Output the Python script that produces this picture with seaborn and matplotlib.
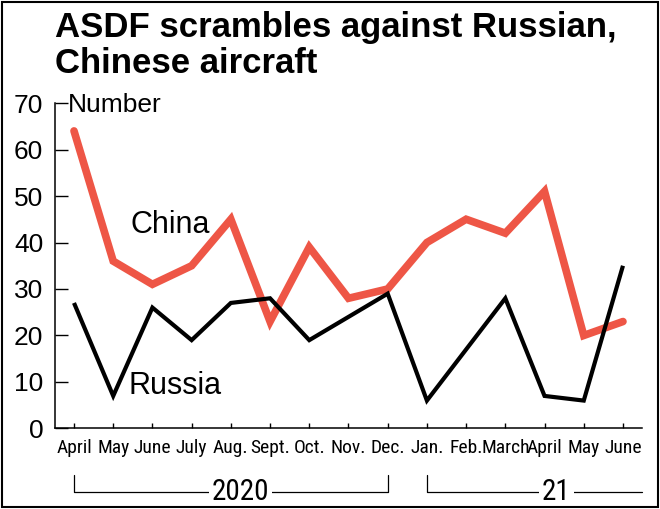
import matplotlib
matplotlib.use("Agg")
import matplotlib.pyplot as plt
import matplotlib.transforms as mtransforms
from matplotlib.patches import Rectangle
import numpy as np
import pandas as pd
import seaborn as sns

months = ["April", "May", "June", "July", "Aug.", "Sept.", "Oct.", "Nov.",
          "Dec.", "Jan.", "Feb.", "March", "April", "May", "June"]
china = [64, 36, 31, 35, 45, 23, 39, 28, 30, 40, 45, 42, 51, 20, 23]
russia = [27, 7, 26, 19, 27, 28, 19, 24, 29, 6, 17, 28, 7, 6, 35]
yticks = [0, 10, 20, 30, 40, 50, 60, 70]

RED = "#EE5646"
NARROW = ["Liberation Sans Narrow", "Roboto Condensed", "Liberation Sans"]

sns.set_style("ticks")
plt.rcParams["font.family"] = ["Liberation Sans", "DejaVu Sans"]
plt.rcParams["text.color"] = "black"
plt.rcParams["xtick.color"] = "black"
plt.rcParams["ytick.color"] = "black"

df = pd.DataFrame({"pos": np.arange(len(months)), "China": china, "Russia": russia})

fig = plt.figure(figsize=(6.6, 5.09), dpi=100)
ax = fig.add_axes([0.0833, 0.1582, 0.8894, 0.6394])

sns.lineplot(data=df, x="pos", y="China", ax=ax, color=RED, linewidth=5.5,
             solid_capstyle="round", solid_joinstyle="miter")
sns.lineplot(data=df, x="pos", y="Russia", ax=ax, color="black", linewidth=3,
             solid_capstyle="butt", solid_joinstyle="miter")

ax.set_xlim(-0.485, len(months) - 1 + 0.485)
ax.set_ylim(0, 70)
ax.set_xticks(df["pos"])
ax.set_xticklabels(months, family=NARROW, fontsize=14)
ax.set_yticks(yticks)
ax.set_yticklabels([str(v) for v in yticks], fontsize=19)
ax.tick_params(axis="x", direction="in", length=3.6, width=1, pad=7.5)
ax.tick_params(axis="y", direction="in", length=9.4, width=1, pad=8.5)
ax.set_xlabel("")
ax.set_ylabel("")
for side in ["top", "right"]:
    ax.spines[side].set_visible(False)
for side in ["left", "bottom"]:
    ax.spines[side].set_linewidth(1.1)
    ax.spines[side].set_color("black")

ax.text(-0.15, 68.1, "Number", fontsize=19, va="baseline", ha="left")
ax.text(1.45, 43.8, "China", fontsize=22, va="center", ha="left")
ax.text(1.38, 9.1, "Russia", fontsize=22, va="center", ha="left")

# year brackets under the month labels
trans = mtransforms.blended_transform_factory(ax.transData, ax.transAxes)
y_top, y_bot = -0.143, -0.195
ax.plot([0, 0, 8, 8], [y_top, y_bot, y_bot, y_top], transform=trans,
        color="black", lw=0.9, clip_on=False)
ax.plot([9, 9, 14.485], [y_top, y_bot, y_bot], transform=trans,
        color="black", lw=0.9, clip_on=False)
ax.text(4.25, y_bot, "2020", transform=trans, family=NARROW, fontsize=21,
        ha="center", va="center",
        bbox=dict(facecolor="white", edgecolor="none", pad=2))
ax.text(12.3, y_bot, "21", transform=trans, family=NARROW, fontsize=21,
        ha="center", va="center",
        bbox=dict(facecolor="white", edgecolor="none", pad=2))

fig.text(0.0833, 0.9273, "ASDF scrambles against Russian,", fontsize=25,
         fontweight="bold", va="baseline", ha="left")
fig.text(0.0833, 0.8566, "Chinese aircraft", fontsize=25,
         fontweight="bold", va="baseline", ha="left")

fig.patches.append(Rectangle((1.5 / 660, 2.5 / 509), 656 / 660, 505 / 509,
                             transform=fig.transFigure, fill=False,
                             edgecolor="black", linewidth=1.5))

fig.savefig("out.png", dpi=100)
